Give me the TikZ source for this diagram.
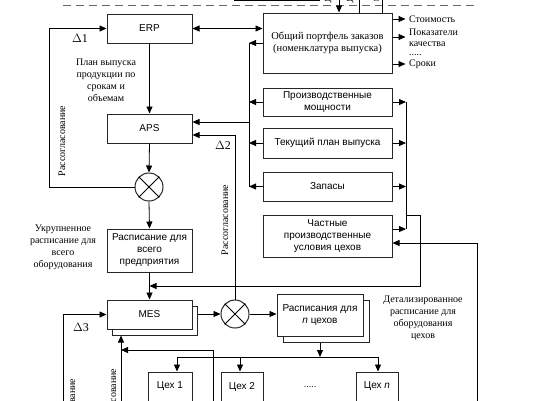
\documentclass[tikz,border=0pt]{standalone}
\usepackage{fontspec}
\setmainfont{Liberation Serif}
\setsansfont{Liberation Sans}
\usetikzlibrary{arrows.meta}
\begin{document}
\begin{tikzpicture}[x=1pt,y=-1pt,
  box/.style={draw=black!85, line width=1pt, fill=white, align=center, inner sep=0pt,
    font=\sffamily\fontsize{10}{12}\selectfont},
  sbox/.style={box, font=\fontsize{10.5}{12.5}\selectfont},
  lbl/.style={font=\fontsize{10}{12}\selectfont, align=center, inner sep=0pt},
  dlt/.style={font=\fontsize{12}{12}\selectfont, inner sep=0pt},
  cmp/.style={draw=black!85, line width=1pt, fill=white, circle, minimum size=28pt, inner sep=0pt},
  ln/.style={line width=0.8pt, black},
  arr/.style={ln, -{Triangle[length=7pt,width=6pt]}},
  darr/.style={ln, {Triangle[length=7pt,width=6pt]}-{Triangle[length=7pt,width=6pt]}}
]
\useasboundingbox (0,0) rectangle (545,400);

% top partial content
\draw[black!60, line width=1.8pt, dash pattern=on 8pt off 5pt] (63,5.5) -- (478,5.5);
\draw[black, line width=1.2pt] (234,0.5) -- (320,0.5);
\node[lbl, anchor=base] (tc1) at (328,1.5) {Ц};
\node[lbl, anchor=base] (tc2) at (350,1.5) {Ц};
\node[lbl, anchor=base] (tc3) at (376,1.5) {С};

% boxes
\node[box, minimum width=85pt, minimum height=29pt] (erp) at (149.5,28.5) {ERP};
\node[box, minimum width=85pt, minimum height=29pt] (aps) at (149.5,128.5) {APS};
\node[cmp] (c1) at (149,187) {};
\draw[ln] (c1.north west) -- (c1.south east) (c1.north east) -- (c1.south west);
\node[box, minimum width=85pt, minimum height=43pt] (rall) at (149.5,250.5) {Расписание для\\всего\\предприятия};
\node[box, minimum width=85pt, minimum height=29pt] (messh) at (154.5,320.5) {};
\node[box, minimum width=85pt, minimum height=29pt] (mes) at (149.5,314.5) {MES};
\node[cmp] (c2) at (235,314) {};
\draw[ln] (c2.north west) -- (c2.south east) (c2.north east) -- (c2.south west);
\node[box, minimum width=86pt, minimum height=42pt] (rnsh) at (326,321) {};
\node[box, minimum width=86pt, minimum height=42pt] (rn) at (320,315) {Расписания для\\\textit{n} цехов};

\node[sbox, minimum width=129pt, minimum height=60pt] (ord) at (327.5,43) {Общий портфель заказов\\(номенклатура выпуска)};
\node[box, minimum width=129pt, minimum height=28pt] (prod) at (327.5,102) {Производственные\\мощности};
\node[box, minimum width=129pt, minimum height=30pt] (cur) at (327.5,143) {Текущий план выпуска};
\node[box, minimum width=129pt, minimum height=29pt] (zap) at (327.5,186.5) {Запасы};
\node[box, minimum width=129pt, minimum height=42pt] (chast) at (327.5,236) {Частные\\производственные\\условия цехов};

\node[box, minimum width=44pt, minimum height=29pt] (cex1) at (170,386.5) {Цех 1};
\node[box, minimum width=42pt, minimum height=29pt] (cex2) at (242,386.5) {Цех 2};
\node[box, minimum width=42pt, minimum height=29pt] (cexn) at (377,386.5) {Цех \textit{n}};
\node[lbl, font=\sffamily\fontsize{9}{12}\selectfont] (dots) at (310,387) {.....};

% labels
\node[lbl] (l1) at (106,80) {План выпуска\\продукции по\\срокам и\\объемам};
\node[lbl] (l2) at (63,247) {Укрупненное\\расписание для\\всего\\оборудования};
\node[lbl] (l3) at (423,318) {Детализированное\\расписание для\\оборудования\\цехов};
\node[lbl, anchor=west] (o1) at (409,19) {Стоимость};
\node[lbl, anchor=west] (o2) at (409,32) {Показатели};
\node[lbl, anchor=west] (o3) at (409,44) {качества};
\node[lbl, anchor=base west] (o4) at (409,55) {.....};
\node[lbl, anchor=west] (o5) at (409,64) {Сроки};
\node[dlt] (d1) at (80,38) {$\Delta$1};
\node[dlt] (d2) at (223,145) {$\Delta$2};
\node[dlt] (d3) at (81,327) {$\Delta$3};
\node[lbl, rotate=90] (r1) at (62,141) {Рассогласование};
\node[lbl, rotate=90] (r2) at (225,220) {Рассогласование};
\node[lbl, rotate=90] (r3) at (72,414) {Рассогласование};
\node[lbl, rotate=90] (r4) at (113,404) {Рассогласование};

% coordinates
\coordinate (tv1) at (339,-5);
\coordinate (tv2) at (359,-5);
\coordinate (tv3) at (382,-5);
\coordinate (lbt) at (249,43);
\coordinate (lbb) at (249,186.5);
\coordinate (lba) at (249,122);
\coordinate (rbt) at (406,102);
\coordinate (rbb) at (406,229);
\coordinate (rbj) at (406,215);
\coordinate (j1) at (420,215);
\coordinate (j2) at (420,286);
\coordinate (fb1) at (49,187);
\coordinate (fb2) at (235,135);
\coordinate (fb3) at (477,410);
\coordinate (fb4) at (63,410);
\coordinate (fb5) at (121,410);
\coordinate (fb6) at (213,410);
\coordinate (fb6t) at (213,350);
\coordinate (hb) at (320,357);
\coordinate (h1) at (177,357);
\coordinate (h2) at (240,357);
\coordinate (hn) at (378,357);

% connectors
\draw[arr] (tv1) -- (tv1 |- ord.north);
\draw[ln] (tv2) -- (tv2 |- ord.north);
\draw[ln] (tv3) -- (tv3 |- ord.north);
\draw[darr] (erp.east) -- (erp.east -| ord.west);
\draw[arr] (erp.south) -- (aps.north);
\draw[arr] (aps.south) -- (c1.north);
\draw[arr] (c1.west) -- (fb1) |- (erp.west);
\draw[arr] (c1.south) -- (rall.north);
\draw[arr] (rall.south) -- (mes.north);

\draw[ln] (lbt) -- (lbb);
\draw[arr] (ord.west) -- (lbt);
\draw[arr] (prod.west) -- (prod.west -| lbt);
\draw[arr] (cur.west) -- (cur.west -| lbt);
\draw[arr] (zap.west) -- (lbb);
\draw[arr] (lba) -- (lba -| aps.east);
\draw[arr] (c2.north) -- (fb2) -- (fb2 -| aps.east);

\draw[ln] (rbt) -- (rbb);
\draw[arr] (prod.east) -- (rbt);
\draw[arr] (cur.east) -- (cur.east -| rbt);
\draw[arr] (zap.east) -- (zap.east -| rbt);
\draw[arr] ([yshift=7pt]chast.east) -- (rbb);
\draw[arr] (rbj) -- (j1) -- (j2) -- (j2 -| rall.south);
\draw[arr] (fb3) |- ([yshift=-7pt]chast.east);

\draw[arr] (ord.east |- o1) -- ++(13,0);
\draw[arr] (ord.east |- 0,37) -- ++(13,0);
\draw[arr] (ord.east |- o5) -- ++(13,0);

\draw[arr] (fb4) |- (mes.west);
\draw[arr] (c2.west -| messh.east) -- (c2.west);
\draw[arr] (c2.east) -- (c2.east -| rn.west);
\draw[arr] (fb5) -- (fb5 |- messh.south);
\draw[arr] (fb6) -- (fb6t) -- (fb6t -| fb5);

\draw[arr] (rn.south |- rnsh.south) -- (hb);
\draw[ln] (h1) -- (hn);
\draw[arr] (h1) -- (h1 |- cex1.north);
\draw[arr] (h2) -- (h2 |- cex2.north);
\draw[arr] (hn) -- (hn |- cexn.north);
\end{tikzpicture}
\end{document}
